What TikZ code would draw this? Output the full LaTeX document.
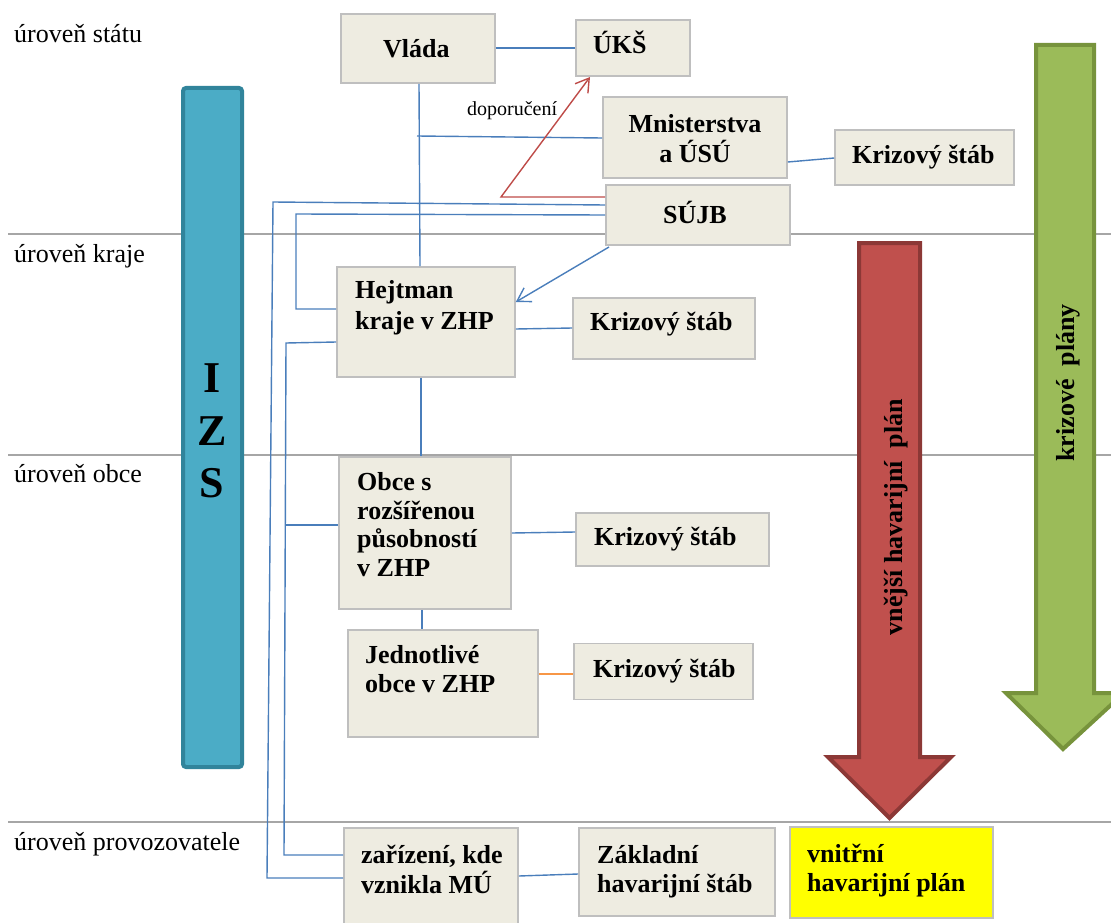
\documentclass[tikz,border=0pt]{standalone}
\usepackage{fontspec}
\setmainfont{Liberation Serif}
\usetikzlibrary{calc,arrows.meta}
\definecolor{boxfill}{HTML}{EEECE1}
\definecolor{boxline}{HTML}{BFBFBF}
\definecolor{levelline}{HTML}{A6A6A6}
\definecolor{conblue}{HTML}{4A7EBB}
\definecolor{conred}{HTML}{BE4B48}
\definecolor{conorange}{HTML}{F79646}
\definecolor{izsfill}{HTML}{4BACC6}
\definecolor{izsline}{HTML}{31849B}
\definecolor{redfill}{HTML}{C0504D}
\definecolor{redline}{HTML}{8C3836}
\definecolor{greenfill}{HTML}{9BBB59}
\definecolor{greenline}{HTML}{77933C}
\definecolor{hplan}{HTML}{FFFF00}
\begin{document}
\begin{tikzpicture}[x=1pt,y=-1pt,
  box/.style={draw=boxline, line width=1.6pt, fill=boxfill, rectangle, inner sep=0pt},
  txt/.style={inner sep=0pt, anchor=base west, align=left, font=\bfseries\fontsize{26}{29}\selectfont},
  lvl/.style={inner sep=0pt, anchor=base west, font=\fontsize{26}{30}\selectfont},
  level/.style={draw=levelline, line width=1.8pt},
  con/.style={draw=conblue, line width=1.4pt},
  bigarrow/.style={line width=4pt, line join=miter}
]
\useasboundingbox (0,0) rectangle (1111,923);
% level lines
\draw[level] (8,234) -- (1111,234);
\draw[level] (8,455) -- (1111,455);
\draw[level] (8,822) -- (1111,822);
% level labels
\node[lvl] (l1) at (14,43) {úroveň státu};
\node[lvl] (l2) at (14,262) {úroveň kraje};
\node[lvl] (l3) at (14,482) {úroveň obce};
\node[lvl] (l4) at (14,850) {úroveň provozovatele};
% IZS bar
\draw[fill=izsfill, draw=izsline, line width=4pt, rounded corners=3pt] (183,88) rectangle (242,767);
\node[inner sep=0pt, anchor=base, font=\bfseries\fontsize{44}{48}\selectfont] (izsI) at (212,392) {I};
\node[inner sep=0pt, anchor=base, font=\bfseries\fontsize{44}{48}\selectfont] (izsZ) at (212,445) {Z};
\node[inner sep=0pt, anchor=base, font=\bfseries\fontsize{44}{48}\selectfont] (izsS) at (212,497) {S};
% big arrows
\draw[bigarrow, fill=redfill, draw=redline] (859,243) -- (920,243) -- (920,757) -- (951,757) -- (889.5,818) -- (828,757) -- (859,757) -- cycle;
\node[inner sep=0pt, anchor=base, rotate=90, font=\bfseries\fontsize{26}{30}\selectfont] (vhpl) at (902,517) {vnější havarijní\ \ plán};
\draw[bigarrow, fill=greenfill, draw=greenline] (1036,45) -- (1094,45) -- (1094,693) -- (1124,693) -- (1063,749) -- (1006,693) -- (1036,693) -- cycle;
\node[inner sep=0pt, anchor=base, rotate=90, font=\bfseries\fontsize{26}{30}\selectfont] (kpl) at (1074,383) {krizové\ \ plány};
% boxes
\node[box, minimum width=154, minimum height=69] (vlada) at (418,48.5) {};
\node[box, minimum width=114, minimum height=56] (uks) at (633,48) {};
\node[box, minimum width=184, minimum height=81] (min) at (695,137.5) {};
\node[box, minimum width=179, minimum height=55] (ks1) at (924.5,157.5) {};
\node[box, minimum width=184, minimum height=60] (sujb) at (698,215) {};
\node[box, minimum width=178, minimum height=110] (hej) at (426,322) {};
\node[box, minimum width=182, minimum height=61] (ks2) at (664,328.5) {};
\node[box, minimum width=172, minimum height=152] (obce) at (425,533) {};
\node[box, minimum width=190, minimum height=107] (jed) at (443,683.5) {};
\node[box, minimum width=193, minimum height=53] (ks3) at (672.5,539.5) {};
\node[box, minimum width=179, minimum height=56] (ks4) at (663.5,671.5) {};
\node[box, minimum width=174, minimum height=110] (zar) at (431,883) {};
\node[box, minimum width=196, minimum height=88] (zak) at (677,872) {};
\node[box, fill=hplan, minimum width=203, minimum height=91] (vhp) at (891.5,872.5) {};
% box texts
\node[txt] (tvlada) at (383,58) {Vláda};
\node[txt] (tuks) at (593,54) {ÚKŠ};
\node[txt, anchor=base] (tmin1) at (695,133) {Mnisterstva};
\node[txt, anchor=base] (tmin2) at (695,163) {a ÚSÚ};
\node[txt] (tks1) at (852,164) {Krizový štáb};
\node[txt] (tsujb) at (663,223) {SÚJB};
\node[txt] (thej1) at (355,298) {Hejtman};
\node[txt] (thej2) at (355,329) {kraje v ZHP};
\node[txt] (tks2) at (590,330) {Krizový štáb};
\node[txt] (tob1) at (357,490) {Obce s};
\node[txt] (tob2) at (357,519) {rozšířenou};
\node[txt] (tob3) at (357,547) {působností};
\node[txt] (tob4) at (357,576) {v ZHP};
\node[txt] (tks3) at (594,545) {Krizový štáb};
\node[txt] (tjed1) at (365,663) {Jednotlivé};
\node[txt] (tjed2) at (365,692) {obce v ZHP};
\node[txt] (tks4) at (593,677) {Krizový štáb};
\node[txt] (tzar1) at (361,863) {zařízení, kde};
\node[txt] (tzar2) at (361,893) {vznikla MÚ};
\node[txt] (tzak1) at (597,863) {Základní};
\node[txt] (tzak2) at (597,892) {havarijní štáb};
\node[txt] (tvhp1) at (807,862) {vnitřní};
\node[txt] (tvhp2) at (807,891) {havarijní plán};
% connectors
\draw[con] (vlada.east |- 0,48) -- (uks.west |- 0,48);
\draw[con] (vlada.south -| 419,0) -- (hej.north -| 420,0);
\draw[con] (hej.south -| 421,0) -- (obce.north -| 421,0);
\draw[con] (obce.south -| 422,0) -- (jed.north -| 422,0);
\coordinate (mj) at (417,136);
\draw[con] (mj) -- (min.west |- 0,138);
\draw[con] (min.east |- 0,162) -- (ks1.west |- 0,158);
\coordinate (o1) at (273,202);
\coordinate (o2) at (267,878);
\draw[con] (sujb.west |- 0,205) -- (o1) -- (o2) -- (zar.west |- 0,878);
\coordinate (p1) at (296,214);
\coordinate (p2) at (296,309);
\draw[con] (sujb.west |- 0,215) -- (p1) -- (p2) -- (hej.west |- 0,309);
\coordinate (q1) at (286,343);
\coordinate (q2) at (286,525);
\coordinate (q3) at (284,855);
\draw[con] (hej.west |- 0,342) -- (q1) -- (q3) -- (zar.west |- 0,855);
\draw[con] (q2) -- (obce.west |- 0,525);
\draw[con, -{Straight Barb[length=13pt,width=16pt]}] (609,247) -- (hej.east |- 0,302);
\draw[con] (hej.east |- 0,329) -- (ks2.west |- 0,328);
\draw[con] (obce.east |- 0,533) -- (ks3.west |- 0,532);
\draw[con, draw=conorange] (jed.east |- 0,674) -- (ks4.west |- 0,674);
\draw[con] (zar.east |- 0,876) -- (zak.west |- 0,874);
\coordinate (r1) at (501,197);
\draw[draw=conred, line width=1.4pt, -{Straight Barb[length=13pt,width=16pt]}] (sujb.west |- 0,197) -- (r1) -- (590,77);
\node[inner sep=0pt, anchor=base west, font=\fontsize{20}{24}\selectfont] (dop) at (467,116) {doporučení};
\end{tikzpicture}
\end{document}
